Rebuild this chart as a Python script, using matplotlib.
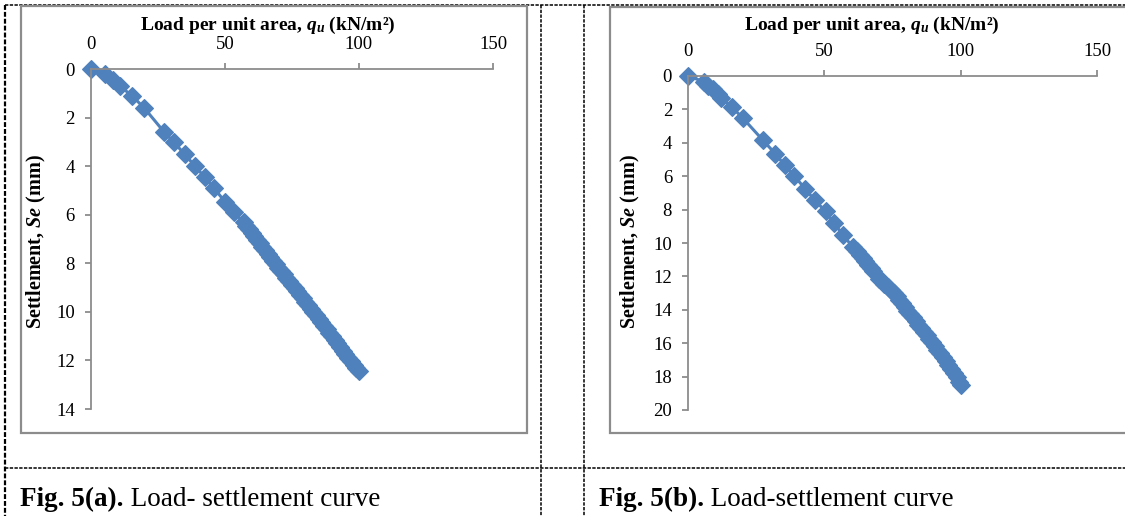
import matplotlib
matplotlib.use("Agg")
import matplotlib.pyplot as plt
from matplotlib.lines import Line2D
from matplotlib.patches import Rectangle

plt.rcParams['font.family'] = ['Liberation Serif', 'DejaVu Serif']
plt.rcParams['mathtext.fontset'] = 'custom'
plt.rcParams['mathtext.rm'] = 'Liberation Serif:bold'
plt.rcParams['mathtext.it'] = 'Liberation Serif:italic:bold'
plt.rcParams['mathtext.bf'] = 'Liberation Serif:bold'

# Fig 5(a) load (kN/m2) vs settlement (mm)
load_a = [0, 5.5, 8.5, 11, 15.5, 20, 27.5, 31, 35, 39, 42.5, 46, 50, 53.5,
          57, 58, 59, 60, 61, 62, 63, 64, 65, 66, 67, 68, 69, 70, 71, 72, 73,
          74, 75, 76, 77, 78, 79, 80, 81, 82, 83, 84, 85, 86, 87, 88, 89, 90,
          91, 92, 93, 94, 95, 96, 97, 98, 99, 100]
settle_a = [0, 0.2, 0.45, 0.7, 1.1, 1.6, 2.6, 3.0, 3.5, 4.0, 4.45, 4.9, 5.45, 5.9,
            6.30, 6.45, 6.60, 6.75, 6.88, 7.02, 7.16, 7.31, 7.45, 7.60, 7.75, 7.89,
            8.03, 8.17, 8.31, 8.45, 8.59, 8.73, 8.87, 9.01, 9.15, 9.29, 9.43, 9.57,
            9.71, 9.86, 10.00, 10.14, 10.29, 10.43, 10.58, 10.72, 10.87, 11.01,
            11.16, 11.30, 11.45, 11.59, 11.74, 11.88, 12.03, 12.17, 12.31, 12.45]

# Fig 5(b)
load_b = [0, 6, 7.5, 9, 11, 12, 16, 20, 27.5, 32, 35.5, 39, 43, 46.5, 50.5,
          53.5, 57, 60.5, 62, 63, 64, 65, 66, 67, 68, 70, 71, 72, 73.5, 74.5,
          75.5, 76.5, 77.5, 78.5, 79.5, 80.5, 81.5, 82.5, 83.5, 84.5, 85.5, 86.5,
          87.5, 88.5, 89.5, 90.5, 91.5, 92.5, 93.5, 94.5, 95.5, 96.5, 97.5, 98.5,
          99.5, 100]
settle_b = [0, 0.35, 0.6, 0.8, 1.05, 1.3, 1.85, 2.5, 3.85, 4.65, 5.35, 6.0, 6.75,
            7.45, 8.1, 8.8, 9.55, 10.25, 10.5, 10.7, 10.9, 11.1, 11.3, 11.5, 11.7,
            12.15, 12.3, 12.45, 12.65, 12.8, 13.0, 13.2, 13.4, 13.6, 13.85, 14.05,
            14.25, 14.45, 14.7, 14.9, 15.1, 15.3, 15.5, 15.75, 15.95, 16.15, 16.4,
            16.6, 16.85, 17.05, 17.3, 17.55, 17.8, 18.05, 18.3, 18.5]

x_ticks = [0, 50, 100, 150]
y_ticks_a = [0, 2, 4, 6, 8, 10, 12, 14]
y_ticks_b = [0, 2, 4, 6, 8, 10, 12, 14, 16, 18, 20]

W, H = 1125, 516
blue = '#4F81BD'
grey = '#8C8C8C'

fig = plt.figure(figsize=(W / 100, H / 100), dpi=100)


def fx(x):
    return x / W


def fy(y):
    return 1 - y / H


def dashed(x0, y0, x1, y1, lw=1.1):
    fig.add_artist(Line2D([fx(x0), fx(x1)], [fy(y0), fy(y1)], transform=fig.transFigure,
                          color='black', lw=lw, linestyle=(0, (2.2, 0.9)), zorder=1))


# table cell borders
dashed(5, 5, W, 5)
dashed(5, 5, 5, H, lw=1.6)
dashed(541, 5, 541, H)
dashed(584, 5, 584, H)
dashed(5, 468, W, 468)

# chart area frames
for x0, x1, y0 in [(21, 527, 6), (610, 1135, 7)]:
    fig.add_artist(Rectangle((fx(x0), fy(433)), fx(x1) - fx(x0), fy(y0) - fy(433),
                             transform=fig.transFigure, facecolor='white',
                             edgecolor=grey, lw=1.6, zorder=2))


def panel(rect, load, settle, ymax, yticks, title_x, ylabel_x):
    ax = fig.add_axes(rect)
    ax.set_zorder(3)
    ax.patch.set_visible(False)
    ax.plot(load, settle, color=blue, lw=2.2, marker='D', ms=9.5,
            markerfacecolor=blue, markeredgecolor=blue, markeredgewidth=0.8,
            clip_on=False)
    ax.set_xlim(0, 150)
    ax.set_ylim(ymax, 0)
    ax.set_xticks(x_ticks)
    ax.set_yticks(yticks)
    ax.xaxis.tick_top()
    for s in ['right', 'bottom']:
        ax.spines[s].set_visible(False)
    for s in ['top', 'left']:
        ax.spines[s].set_color(grey)
        ax.spines[s].set_linewidth(1.3)
    ax.tick_params(direction='out', length=4.5, width=1.3, color=grey,
                   labelsize=13.5, pad=7)
    fig.text(fx(title_x), fy(25), 'Load per unit area, $q_u$ (kN/m²)',
             ha='center', va='center', fontsize=14, fontweight='bold', zorder=4)
    fig.text(fx(ylabel_x), fy(242), 'Settlement, $Se$ (mm)', rotation=90,
             ha='center', va='center', fontsize=14.5, fontweight='bold', zorder=4)
    return ax


panel([fx(90.7), fy(409), fx(493) - fx(90.7), fy(69.3) - fy(409)],
      load_a, settle_a, 14, y_ticks_a, 268, 36)
panel([fx(688), fy(410), fx(1097) - fx(688), fy(76) - fy(410)],
      load_b, settle_b, 20, y_ticks_b, 872, 630)

# captions
for x, lab, rest in [(20, 'Fig. 5(a).', ' Load- settlement curve'),
                     (599, 'Fig. 5(b).', ' Load-settlement curve')]:
    t = fig.text(fx(x), fy(506), lab, fontsize=19.5, fontweight='bold', va='baseline')
    fig.add_artist(plt.Annotation(rest, xy=(1, 0), xycoords=t, fontsize=19.5,
                                  va='bottom', ha='left'))

fig.savefig('out.png', dpi=100)
